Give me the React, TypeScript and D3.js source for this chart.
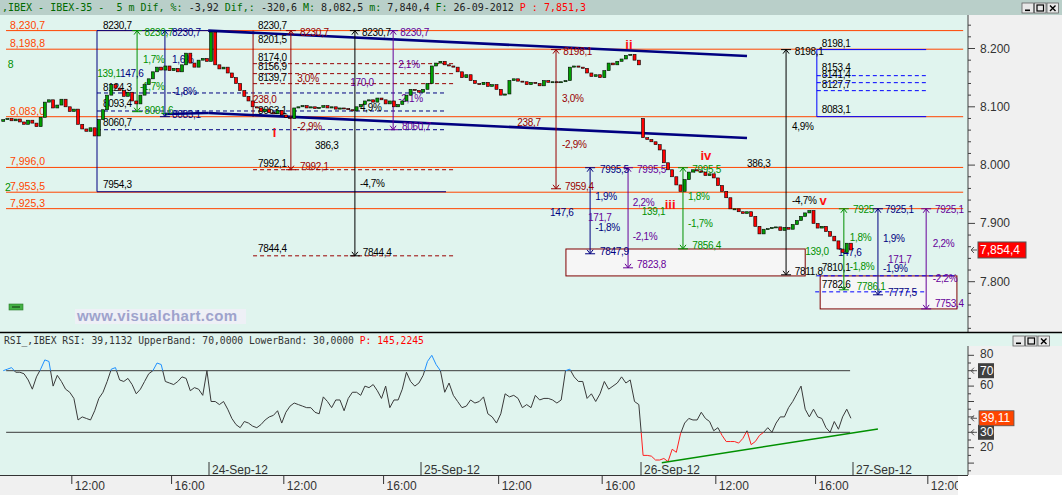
import React from "react";
import * as d3 from "d3";

const W = 1062;
const H = 495;

// ---------- DATA ----------
// 10-minute closes per session (IBEX-35)
const closes21 = [8078, 8080, 8076, 8079, 8074, 8070, 8077, 8072, 8066, 8082, 8108, 8112, 8098, 8103, 8113, 8100, 8092, 8096, 8070, 8062, 8058, 8064, 8050, 8078, 8095, 8120, 8138, 8132, 8128, 8118, 8125, 8110, 8105, 8120, 8138, 8148, 8160, 8168, 8163, 8170, 8162, 8166, 8160, 8172, 8192, 8175, 8168, 8180, 8183, 8178];
const closes24 = [8228, 8172, 8165, 8168, 8158, 8150, 8140, 8128, 8118, 8110, 8100, 8098, 8092, 8096, 8090, 8088, 8094, 8086, 8082, 8080, 8098, 8100, 8102, 8098, 8100, 8097, 8099, 8102, 8098, 8100, 8096, 8098, 8097, 8095, 8093, 8100, 8104, 8110, 8112, 8108, 8115, 8112, 8105, 8110, 8100, 8104, 8110, 8120, 8130, 8128, 8125];
const closes25 = [8130, 8140, 8170, 8175, 8178, 8172, 8170, 8168, 8160, 8150, 8155, 8145, 8140, 8138, 8142, 8135, 8138, 8130, 8120, 8122, 8145, 8148, 8144, 8143, 8138, 8142, 8140, 8136, 8145, 8142, 8143, 8142, 8143, 8145, 8168, 8170, 8168, 8166, 8158, 8152, 8155, 8150, 8162, 8175, 8172, 8178, 8182, 8188, 8190, 8180, 8172];
const closes26 = [8047, 8044, 8040, 8035, 8026, 8004, 7992, 7980, 7966, 7955, 7975, 7988, 7992, 7990, 7988, 7982, 7985, 7978, 7965, 7955, 7944, 7925, 7925, 7920, 7917, 7920, 7912, 7895, 7882, 7890, 7891, 7893, 7894, 7888, 7893, 7890, 7898, 7905, 7912, 7918, 7922, 7900, 7892, 7895, 7886, 7878, 7870, 7856, 7850, 7866, 7854.4];
const sessionOpens = [8075, null, null, 8080];
const sessionStartSlot = [0, 51, 102, 153];
const sessionFirstIdx = [1, 0, 0, 0];

// RSI per 10-min slot
const rsi21 = [70, 71, 72, 69, 69, 68, 64, 58, 66, 71, 77, 76, 60, 67, 63, 58, 56, 52, 38, 40, 39, 38, 44, 52, 56, 63, 71, 72, 64, 63, 65, 61, 55, 58, 63, 68, 70, 75, 74, 63, 62, 61, 63, 66, 65, 57, 59, 58, 54, 70];
const rsi24 = [50, 50, 48, 50, 45, 39, 35, 33, 37, 36, 34, 33, 35, 38, 40, 41, 44, 36, 43, 47, 49, 48, 47, 46, 46, 43, 42, 53, 50, 46, 51, 51, 44, 52, 56, 56, 54, 60, 59, 61, 57, 52, 60, 46, 51, 51, 58, 69, 63, 60, 62];
const rsi25 = [67, 76, 80, 74, 70, 56, 62, 54, 50, 46, 47, 51, 49, 50, 53, 42, 40, 36, 42, 55, 53, 54, 52, 46, 48, 46, 54, 51, 52, 52, 51, 49, 51, 70, 71, 66, 63, 63, 52, 55, 50, 55, 63, 58, 60, 62, 66, 62, 64, 50, 48];
const rsi26 = [15, 15, 14.5, 12, 12, 13, 11, 19, 17, 29, 36, 39, 38, 38, 43, 39, 37, 31, 33, 28, 24, 24, 24, 23, 26, 31, 22, 24, 28, 30, 33, 30, 36, 40, 40, 46, 50, 55, 60, 45, 40, 45, 40, 39, 33, 30, 37, 32, 40, 45, 39.11];
const rsiBands = [70, 30];
const rsiTrend = [[158.0, 10.3], [210.0, 32.2]];

// time axis
const slotBreaks = [0, 51, 102, 153, 204, 255];
const timeTicks: [number, string][] = [[18, "12:00"], [42, "16:00"], [69, "12:00"], [93, "16:00"], [120, "12:00"], [144, "16:00"], [171, "12:00"], [195, "16:00"], [222, "12:00"]];
const dateMarks: [number, string][] = [[51, "24-Sep-12"], [102, "25-Sep-12"], [153, "26-Sep-12"], [204, "27-Sep-12"]];

// horizontal support / resistance levels
const levelValues = [8230.7, 8198.8, 8083.0, 7996.0, 7953.5, 7925.3];
const levelSpan = [2.17, 230.5];

// measuring arrows: slot, from, to, colour key
const arrows: [number, number, number, string][] = [
  [33.7, 8230.7, 8091.6, "g"],
  [40.4, 8230.7, 8083.1, "n"],
  [70.7, 8230.7, 7992.1, "r"],
  [86.1, 8230.7, 7844.4, "k"],
  [95.3, 8230.7, 8060.7, "p"],
  [133.3, 7959.4, 8198.1, "r"],
  [187.9, 8198.1, 7811.8, "k"],
  [141.2, 7995.5, 7847.9, "n"],
  [150.0, 7995.5, 7823.8, "p"],
  [163.1, 7995.5, 7856.4, "g"],
  [201.8, 7925.1, 7786.1, "g"],
  [210.0, 7925.1, 7777.5, "n"],
  [221.6, 7925.1, 7753.4, "p"],
];

// dashed retracement lines: price, slotFrom, slotTo, colour
const dashedLines: [number, number, number, string][] = [
  [8123.7, 24.06, 107.8, "n"],
  [8092.8, 24.06, 107.8, "n"],
  [8060.7, 24.06, 107.8, "n"],
  [8174.0, 61.6, 110, "r"],
  [8156.9, 61.6, 110, "r"],
  [8139.7, 61.6, 110, "r"],
  [7992.1, 61.6, 110, "r"],
  [7844.4, 61.6, 110, "r"],
  [8153.4, 195.3, 221.6, "b"],
  [8141.4, 195.3, 221.6, "b"],
  [8127.7, 195.3, 221.6, "b"],
  [7810.1, 195.3, 229.0, "b"],
  [7782.6, 194.9, 221.6, "b"],
];

// thin solid segments: slot1, p1, slot2, p2, colour
const solidSegs: [number, number, number, number, string][] = [
  [24.06, 8230.7, 50.8, 8230.7, "n"],
  [24.06, 8230.7, 24.06, 7954.3, "n"],
  [24.06, 7954.3, 107.8, 7954.3, "n"],
  [61.6, 8230.7, 61.6, 8082.5, "r"],
  [195.3, 8198.1, 221.6, 8198.1, "b"],
  [195.3, 8083.1, 221.6, 8083.1, "b"],
  [195.3, 8198.1, 195.3, 8083.1, "b"],
];

// channel (thick navy)
const channelSegs: [number, number, number, number][] = [
  [50.8, 8230.7, 178.5, 8187.1],
  [50.8, 8089.4, 178.5, 8046.5],
  [40.4, 8087.7, 50.8, 8089.4],
];

// target boxes: slot1, slot2, top, bottom
const boxes: [number, number, number, number][] = [
  [135.6, 192.5, 7856.1, 7809.9],
  [196.1, 229.0, 7809.9, 7753.3],
];

// annotation texts: slot, price (centre), text, colour
const labels: [number, number, string, string][] = [
  [25.5, 8240.3, "8230,7", "k"], [25.5, 8072.3, "8060,7", "k"], [25.5, 8132.3, "8124,3", "k"],
  [25.5, 8106.5, "8093,4", "k"], [25.5, 7965.9, "7954,3", "k"],
  [62.8, 8240.3, "8230,7", "k"], [62.8, 8214.6, "8201,5", "k"], [62.8, 8185.4, "8174,0", "k"],
  [62.8, 8168.3, "8156,9", "k"], [62.8, 8151.1, "8139,7", "k"], [62.8, 8094.5, "8063,1", "k"],
  [62.8, 8003.6, "7992,1", "k"], [62.8, 7856.2, "7844,4", "k"], [76.5, 8032.8, "386,3", "k"],
  [87.8, 8226.6, "8230,7", "k"], [87.3, 8098, "4,9%", "k"], [87.3, 7969, "-4,7%", "k"],
  [88.0, 7849.3, "7844,4", "k"], [190.0, 8194, "8198,1", "k"], [189.3, 8065.4, "4,9%", "k"],
  [178.5, 8003.6, "386,3", "k"], [189.3, 7938.5, "-4,7%", "k"], [190.0, 7816.7, "7811,8", "k"],
  [196.5, 8209.4, "8198,1", "k"], [196.5, 8166.6, "8153,4", "k"], [196.5, 8154.6, "8141,4", "k"],
  [196.5, 8139, "8127,7", "k"], [196.5, 8096.2, "8083,1", "k"], [196.5, 7823.6, "7810,1", "k"],
  [196.5, 7794.5, "7782,6", "k"],
  [24.1, 8157.9, "139,1", "g"], [35.5, 8226.6, "8230,7", "g"], [35.1, 8180.3, "1,7%", "g"],
  [34.4, 8134, "-1,7%", "g"], [35.5, 8094.5, "8091,6", "g"], [165.3, 7991.6, "7995,5", "g"],
  [164.3, 7945.3, "1,8%", "g"], [153.2, 7921, "139,1", "g"], [164.3, 7899, "-1,7%", "g"],
  [165.3, 7862.5, "7856,4", "g"], [204.0, 7923, "7925", "g"], [203.2, 7875, "1,8%", "g"],
  [192.5, 7851, "139,0", "g"], [203.2, 7826.9, "-1,8%", "g"], [204.9, 7791, "7786,1", "g"],
  [42.1, 8226.6, "8230,7", "n"], [29.6, 8157.9, "147,6", "n"], [42.1, 8180.3, "1,6%", "n"],
  [42.1, 8127, "-1,8%", "n"], [42.1, 8086, "8083,1", "n"], [143.5, 7991.6, "7995,5", "n"],
  [142.4, 7945.3, "1,9%", "n"], [131.9, 7917.9, "147,6", "n"], [142.4, 7892.2, "-1,8%", "n"],
  [143.5, 7851, "7847,9", "n"], [211.7, 7923, "7925,1", "n"], [211.2, 7873.3, "1,9%", "n"],
  [211.2, 7822, "-1,9%", "n"], [212.4, 7780.8, "7777,5", "n"], [200.4, 7849.3, "147,6", "n"],
  [97.0, 8226.6, "8230,7", "p"], [96.5, 8171.7, "2,1%", "p"], [96.5, 8113.4, "-2,1%", "p"],
  [97.4, 8065.4, "8060,7", "p"], [85.0, 8141, "170,0", "p"], [152.1, 7991.6, "7995,5", "p"],
  [151.1, 7935, "2,2%", "p"], [140.7, 7909.3, "171,7", "p"], [151.1, 7876.7, "-2,1%", "p"],
  [152.1, 7828.7, "7823,8", "p"], [223.7, 7923, "7925,1", "p"], [223.2, 7864.8, "2,2%", "p"],
  [223.2, 7805.1, "-2,2%", "p"], [223.7, 7761.9, "7753,4", "p"], [212.4, 7837.3, "171,7", "p"],
  [72.9, 8226.6, "8230,7", "r"], [72.2, 8147.7, "3,0%", "r"], [72.2, 8067, "-2,9%", "r"],
  [72.9, 7996.8, "7992,1", "r"], [61.6, 8111.7, "238,0", "r"], [135.0, 8194, "8198,1", "r"],
  [134.7, 8115, "3,0%", "r"], [124.3, 8072.3, "238,7", "r"], [134.7, 8034.5, "-2,9%", "r"],
  [135.4, 7962.5, "7959,4", "r"],
];

const waveLabels: [number, number, string][] = [
  [66.8, 8056.7, "i"], [150.2, 8207.7, "ii"], [160.0, 7933, "iii"], [168.6, 8017, "iv"], [196.8, 7938.5, "v"],
];

const sideMarks: [number, number, string][] = [[2.6, 8173.4, "8"], [1.9, 7962.5, "2"]];

const lastPrice = 7854.4;
const lastRsi = 39.11;
const priceTicks = d3.range(7720, 8260, 20);
const priceLabels = [7800, 7900, 8000, 8100, 8200];
const rsiTicks = d3.range(0, 85, 5);
const rsiLabels = [80, 60, 20];

// ---------- LAYOUT ----------
const AX = 968;
const TOP = 15;
const UP_BOT = 332;
const LO_TOP = 346;
const LO_BOT = 475;

const COL: Record<string, string> = {
  g: "#009000", n: "#000080", r: "#990000", k: "#000000", p: "#660099", b: "#0000ff", o: "#ff4500",
};
const MINT = "#e0f4ee";
const LBL = "'Liberation Sans', Arial, sans-serif";
const MONO = "'DejaVu Sans Mono', monospace";

const euro = d3.formatLocale({ decimal: ",", thousands: ",", grouping: [3], currency: ["", ""] }).format(",.1f");
const dotK = d3.formatLocale({ decimal: ",", thousands: ".", grouping: [3], currency: ["", ""] }).format(",.0f");

function WinButtons({ x, y }: { x: number; y: number }) {
  const w = 11.5;
  return (
    <g>
      {[0, 1, 2].map((i) => (
        <g key={i} transform={`translate(${x + i * (w + 1)},${y})`}>
          <rect x={0} y={0} width={w} height={10} fill="#e8e8e8" stroke="#606060" strokeWidth={0.8} />
          {i === 0 && <rect x={3} y={6.5} width={5} height={1.6} fill="#000" />}
          {i === 1 && <rect x={2.5} y={2} width={6.5} height={6} fill="none" stroke="#000" strokeWidth={1.2} />}
          {i === 2 && <path d="M3,2.5L8.5,8M8.5,2.5L3,8" stroke="#000" strokeWidth={1.4} />}
        </g>
      ))}
    </g>
  );
}

export default function App() {
  const x = d3.scaleLinear().domain(slotBreaks).range([-3, 209, 421, 641, 853, 1065]);
  const yP = d3.scaleLinear().domain([7800, 8200]).range([281.7, 48.5]);
  const yR = d3.scaleLinear().domain([30, 70]).range([432.3, 370.7]);

  const closeSets = [closes21, closes24, closes25, closes26];
  const rsiSets = [rsi21, rsi24, rsi25, rsi26];

  const candles: { s: number; o: number; c: number }[] = [];
  let prev: number | null = null;
  closeSets.forEach((arr, si) => {
    if (sessionOpens[si] != null) prev = sessionOpens[si] as number;
    arr.forEach((c, i) => {
      const o = prev == null ? c : prev;
      candles.push({ s: sessionStartSlot[si] + sessionFirstIdx[si] + i + 0.5, o, c });
      prev = c;
    });
  });

  const rsiPts: { s: number; v: number }[] = [];
  rsiSets.forEach((arr, si) => {
    arr.forEach((v, i) => rsiPts.push({ s: sessionStartSlot[si] + sessionFirstIdx[si] + i + 0.5, v }));
  });

  const rsiSegs: { x1: number; y1: number; x2: number; y2: number; c: string }[] = [];
  for (let i = 1; i < rsiPts.length; i++) {
    const a = rsiPts[i - 1];
    const b = rsiPts[i];
    const cuts = [0, 1];
    [70, 30].forEach((t) => {
      if ((a.v - t) * (b.v - t) < 0) cuts.push((t - a.v) / (b.v - a.v));
    });
    cuts.sort((p, q) => p - q);
    for (let k = 1; k < cuts.length; k++) {
      const t0 = cuts[k - 1];
      const t1 = cuts[k];
      const mid = a.v + (b.v - a.v) * ((t0 + t1) / 2);
      const c = mid > 70 ? "#1e90ff" : mid < 30 ? "#ff2020" : "#3a3a3a";
      rsiSegs.push({
        x1: x(a.s + (b.s - a.s) * t0), y1: yR(a.v + (b.v - a.v) * t0),
        x2: x(a.s + (b.s - a.s) * t1), y2: yR(a.v + (b.v - a.v) * t1), c,
      });
    }
  }

  const bodyW = 3;

  return (
    <svg width={W} height={H} style={{ position: "fixed", left: 0, top: 0, display: "block" }} fontFamily={LBL}>
      <defs>
        <clipPath id="upclip"><rect x={0} y={TOP} width={AX} height={UP_BOT - TOP} /></clipPath>
        <clipPath id="loclip"><rect x={0} y={LO_TOP} width={AX} height={LO_BOT - LO_TOP} /></clipPath>
        <clipPath id="botclip"><rect x={0} y={LO_BOT} width={958} height={H - LO_BOT} /></clipPath>
      </defs>

      {/* backgrounds */}
      <rect x={0} y={0} width={W} height={H} fill="#ffffff" />
      <rect x={0} y={0} width={W} height={TOP} fill="#b9cfc9" />
      <rect x={0} y={TOP} width={AX} height={UP_BOT - TOP} fill={MINT} />
      <rect x={AX} y={TOP} width={W - AX} height={UP_BOT - TOP} fill="#f0f0f0" />
      <rect x={0} y={UP_BOT} width={W} height={LO_TOP - UP_BOT} fill={MINT} />
      <rect x={0} y={LO_TOP} width={AX} height={LO_BOT - LO_TOP} fill={MINT} />
      <rect x={AX} y={LO_TOP} width={W - AX} height={LO_BOT - LO_TOP} fill="#f0f0f0" />
      <rect x={0} y={LO_BOT} width={958} height={H - LO_BOT} fill="#f0f0f0" />

      {/* title */}
      <text x={2} y={11} fontFamily={MONO} fontSize={10} style={{ whiteSpace: "pre" }}>
        <tspan fill="#006a00">{",IBEX - IBEX-35 -  5 m Dif, %: "}</tspan>
        <tspan fill="#222">{"-3,92 "}</tspan>
        <tspan fill="#006a00">{"Dif,: "}</tspan>
        <tspan fill="#222">{"-320,6 "}</tspan>
        <tspan fill="#006a00">{"M: "}</tspan>
        <tspan fill="#222">{"8,082,5 "}</tspan>
        <tspan fill="#006a00">{"m: "}</tspan>
        <tspan fill="#222">{"7,840,4 "}</tspan>
        <tspan fill="#006a00">{"F: "}</tspan>
        <tspan fill="#222">{"26-09-2012 "}</tspan>
        <tspan fill="#ff0000">{"P : 7,851,3"}</tspan>
      </text>
      <WinButtons x={1022} y={3} />

      {/* ===== UPPER PANEL ===== */}
      <g clipPath="url(#upclip)">
        {/* orange levels */}
        {levelValues.map((v, i) => (
          <g key={`lv${i}`}>
            <line x1={x(levelSpan[0])} x2={x(levelSpan[1])} y1={yP(v)} y2={yP(v)} stroke={COL.o} strokeWidth={1} />
            <text x={x(levelSpan[0]) + 4} y={yP(v) - 6} fill={COL.o} fontSize={10.5} dominantBaseline="central">{euro(v)}</text>
          </g>
        ))}
        {sideMarks.map(([s, p, t], i) => (
          <text key={`sm${i}`} x={x(s)} y={yP(p)} fill="#009000" fontSize={10.5} dominantBaseline="central">{t}</text>
        ))}

        {/* target boxes */}
        {boxes.map(([s1, s2, pt, pb], i) => (
          <rect key={`bx${i}`} x={x(s1)} y={yP(pt)} width={x(s2) - x(s1)} height={yP(pb) - yP(pt)} fill="#f6f6f6" stroke="#800000" strokeWidth={1} />
        ))}

        {/* dashed lines */}
        {dashedLines.map(([p, s1, s2, c], i) => (
          <line key={`dl${i}`} x1={x(s1)} x2={x(s2)} y1={yP(p)} y2={yP(p)} stroke={COL[c]} strokeWidth={1} strokeDasharray="4,3" />
        ))}

        {/* solid segments */}
        {solidSegs.map(([s1, p1, s2, p2, c], i) => (
          <line key={`ss${i}`} x1={x(s1)} x2={x(s2)} y1={yP(p1)} y2={yP(p2)} stroke={COL[c]} strokeWidth={1} />
        ))}

        {/* channel */}
        {channelSegs.map(([s1, p1, s2, p2], i) => (
          <line key={`ch${i}`} x1={x(s1)} x2={x(s2)} y1={yP(p1)} y2={yP(p2)} stroke="#000080" strokeWidth={2.6} />
        ))}

        {/* arrows */}
        {arrows.map(([s, p1, p2, c], i) => {
          const xx = x(s);
          const y1 = yP(p1);
          const y2 = yP(p2);
          const ends = [
            { y: y1, d: Math.sign(y1 - y2) },
            { y: y2, d: Math.sign(y2 - y1) },
          ];
          return (
            <g key={`ar${i}`} stroke={COL[c]} fill="none" strokeWidth={1}>
              <line x1={xx} x2={xx} y1={y1} y2={y2} />
              {ends.map((e, k) => (
                <g key={k}>
                  <path d={`M${xx - 3},${e.y - 4 * e.d}L${xx},${e.y}L${xx + 3},${e.y - 4 * e.d}`} />
                  <line x1={xx - 5} x2={xx + 5} y1={e.y} y2={e.y} />
                </g>
              ))}
            </g>
          );
        })}

        {/* annotation labels */}
        {labels.map(([s, p, t, c], i) => (
          <text key={`lb${i}`} x={x(s)} y={yP(p)} fill={COL[c]} fontSize={10} letterSpacing={-0.3} dominantBaseline="central">{t}</text>
        ))}

        {/* candles */}
        {candles.map((d, i) => {
          const top = yP(Math.max(d.o, d.c));
          const bot = yP(Math.min(d.o, d.c));
          const up = d.c >= d.o;
          return (
            <rect key={`cd${i}`} x={x(d.s) - bodyW / 2} y={top} width={bodyW} height={Math.max(1, bot - top)}
              fill={up ? "#00a000" : "#ff0000"} stroke="#000" strokeWidth={0.6} />
          );
        })}

        {/* wave labels */}
        {waveLabels.map(([s, p, t], i) => (
          <text key={`wv${i}`} x={x(s)} y={yP(p)} fill="#ff1010" fontSize={13} fontWeight="bold" textAnchor="middle" dominantBaseline="central">{t}</text>
        ))}

        {/* watermark & small button */}
        <rect x={75} y={309} width={171} height={15} fill="#eef0f6" />
        <text x={77} y={321} fontSize={15} fontWeight="bold" fill="#9ea3cc" letterSpacing={0.4}>www.visualchart.com</text>
        <rect x={9} y={304} width={14} height={6} fill="#44b044" stroke="#2a7a2a" strokeWidth={0.6} />
        <line x1={12} x2={20} y1={307} y2={307} stroke="#113311" strokeWidth={1} />
      </g>

      {/* upper right axis */}
      <line x1={AX} x2={AX} y1={TOP} y2={UP_BOT} stroke="#404040" strokeWidth={1} />
      {priceTicks.filter((v) => yP(v) > TOP && yP(v) < UP_BOT).map((v) => (
        <line key={`pt${v}`} x1={AX} x2={AX + (v % 100 === 0 ? 7 : 3)} y1={yP(v)} y2={yP(v)} stroke="#404040" strokeWidth={1} />
      ))}
      {priceLabels.map((v) => (
        <text key={`pl${v}`} x={980} y={yP(v)} fontSize={12} fill="#333" dominantBaseline="central">{dotK(v)}</text>
      ))}
      <path d={`M977,${yP(lastPrice)}H971M974,${yP(lastPrice) - 3}L971,${yP(lastPrice)}L974,${yP(lastPrice) + 3}`} stroke="#555" fill="none" />
      <rect x={978} y={yP(lastPrice) - 8} width={48} height={16} fill="#ff0000" stroke="#555" strokeWidth={1} />
      <text x={980} y={yP(lastPrice)} fontSize={12} fill="#fff" dominantBaseline="central">{euro(lastPrice)}</text>

      {/* separator */}
      <line x1={0} x2={W} y1={UP_BOT + 0.5} y2={UP_BOT + 0.5} stroke="#000" strokeWidth={1.5} />

      {/* ===== LOWER PANEL ===== */}
      <text x={4} y={344} fontFamily={MONO} fontSize={9.7} style={{ whiteSpace: "pre" }}>
        <tspan fill="#333">{"RSI_,IBEX RSI: 39,1132 UpperBand: 70,0000 LowerBand: 30,0000 "}</tspan>
        <tspan fill="#ff0000">{"P: 145,2245"}</tspan>
      </text>
      <WinButtons x={1013} y={336} />

      <g clipPath="url(#loclip)">
        {rsiBands.map((b) => (
          <line key={`rb${b}`} x1={x(2.2)} x2={x(203.3)} y1={yR(b)} y2={yR(b)} stroke="#3a3a3a" strokeWidth={1} />
        ))}
        {rsiSegs.map((sg, i) => (
          <line key={`rs${i}`} x1={sg.x1} y1={sg.y1} x2={sg.x2} y2={sg.y2} stroke={sg.c} strokeWidth={1} />
        ))}
        <line x1={x(rsiTrend[0][0])} y1={yR(rsiTrend[0][1])} x2={x(rsiTrend[1][0])} y2={yR(rsiTrend[1][1])} stroke="#009000" strokeWidth={1.5} />
        {dateMarks.map(([s, t]) => (
          <g key={`dm${t}`}>
            <line x1={x(s)} x2={x(s)} y1={462} y2={LO_BOT} stroke="#333" strokeWidth={1} />
            <text x={x(s) + 3} y={470} fontSize={12} fill="#333" dominantBaseline="central">{t}</text>
          </g>
        ))}
      </g>

      {/* lower right axis */}
      <line x1={AX} x2={AX} y1={LO_TOP} y2={LO_BOT} stroke="#404040" strokeWidth={1} />
      {rsiTicks.filter((v) => yR(v) > LO_TOP && yR(v) < LO_BOT).map((v) => (
        <line key={`rt${v}`} x1={AX} x2={AX + (v % 10 === 0 ? 6 : 3)} y1={yR(v)} y2={yR(v)} stroke="#404040" strokeWidth={1} />
      ))}
      {rsiLabels.map((v) => (
        <text key={`rl${v}`} x={980} y={yR(v) - 1} fontSize={12} fill="#333" dominantBaseline="central">{v}</text>
      ))}
      {[70, 30].map((v) => (
        <g key={`bb${v}`}>
          <path d={`M977,${yR(v)}H971M974,${yR(v) - 3}L971,${yR(v)}L974,${yR(v) + 3}`} stroke="#555" fill="none" />
          <rect x={978} y={yR(v) - 7.5} width={16} height={15} fill="#404040" />
          <text x={980} y={yR(v)} fontSize={12} fill="#fff" dominantBaseline="central">{v}</text>
        </g>
      ))}
      <path d={`M977,${yR(lastRsi)}H971M974,${yR(lastRsi) - 3}L971,${yR(lastRsi)}L974,${yR(lastRsi) + 3}`} stroke="#555" fill="none" />
      <rect x={979} y={yR(lastRsi) - 7.5} width={35} height={15} fill="#ff4500" stroke="#555" strokeWidth={0.8} />
      <text x={981} y={yR(lastRsi)} fontSize={12} fill="#fff" dominantBaseline="central">{d3.format(".2f")(lastRsi).replace(".", ",")}</text>

      {/* bottom time axis */}
      <line x1={0} x2={AX} y1={LO_BOT + 0.5} y2={LO_BOT + 0.5} stroke="#333" strokeWidth={1} />
      <g clipPath="url(#botclip)">
        {timeTicks.map(([s, t], i) => (
          <g key={`tt${i}`}>
            <line x1={x(s)} x2={x(s)} y1={LO_BOT} y2={484} stroke="#333" strokeWidth={1} />
            <text x={x(s) + 3} y={486} fontSize={12} fill="#333" dominantBaseline="central">{t}</text>
          </g>
        ))}
      </g>
    </svg>
  );
}
